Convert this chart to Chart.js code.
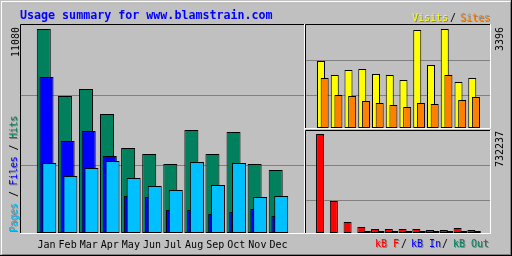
<!DOCTYPE html>
<html>
<head>
<meta charset="utf-8">
<script src="https://cdn.jsdelivr.net/npm/chart.js@4.4.1/dist/chart.umd.min.js"></script>
<style>
body { margin: 0; background: #c0c0c0; }
#wrap { position: relative; width: 511px; height: 255px; border-right: 1px solid #000; border-bottom: 1px solid #000;
        background: #c0c0c0; overflow: hidden; font-family: "DejaVu Sans Mono", monospace; font-size: 10px; line-height: 10px; }
#bevel { position: absolute; left: 1px; top: 1px; width: 508px; height: 252px;
         border-left: 1px solid #fff; border-top: 1px solid #fff; border-right: 1px solid #808080; border-bottom: 1px solid #808080; }
canvas { position: absolute; }
.t { position: absolute; white-space: pre; }
.up { position: absolute; white-space: pre; transform-origin: 0 0; transform: rotate(-90deg); }
.sh { text-shadow: 1px 1px 0 #808080; }
.up .sh { text-shadow: -1px 1px 0 #808080; }
</style>
</head>
<body>
<div id="wrap">
  <div id="bevel"></div>
  <canvas id="main" width="305" height="256" style="left:0;top:0"></canvas>
  <canvas id="vs" width="207" height="130" style="left:305px;top:0"></canvas>
  <canvas id="kb" width="207" height="126" style="left:305px;top:130px"></canvas>

  <div class="t" style="left:20px;top:10px;font-weight:bold;font-size:11.67px;line-height:11.67px;color:#0000ff">Usage summary for www.blamstrain.com</div>

  <div class="t sh" style="left:412px;top:13px;color:#ffff00">Visits</div>
  <div class="t" style="left:450px;top:13px;color:#000">/</div>
  <div class="t sh" style="left:460px;top:13px;color:#ff8000">Sites</div>

  <div class="t sh" style="left:375px;top:239px;color:#ff0000">kB F</div>
  <div class="t" style="left:401px;top:239px;color:#000">/</div>
  <div class="t sh" style="left:411px;top:239px;color:#0000ff">kB In</div>
  <div class="t" style="left:442px;top:239px;color:#000">/</div>
  <div class="t sh" style="left:453px;top:239px;color:#00805c">kB Out</div>

  <div class="up" style="left:11px;top:57px;color:#000">11080</div>
  <div class="up" style="left:495px;top:51px;color:#000">3396</div>
  <div class="up" style="left:495px;top:167px;color:#000">732237</div>
  <div class="up" style="left:9px;top:232px;letter-spacing:-0.2px"><span class="sh" style="color:#00c0ff">Pages</span> / <span class="sh" style="color:#0000ff">Files</span> / <span class="sh" style="color:#00805c">Hits</span></div>
</div>

<script>
const months = ['Jan', 'Feb', 'Mar', 'Apr', 'May', 'Jun', 'Jul', 'Aug', 'Sep', 'Oct', 'Nov', 'Dec'];

const hits  = [11080, 7441, 7821, 6463, 4616, 4291, 3747, 5594, 4291, 5485, 3747, 3422];
const files = [8472, 4997, 5540, 4182, 2009, 1955, 1249, 1249, 1032, 1141, 1303, 923];
const pages = [3802, 3096, 3530, 3910, 2987, 2553, 2335, 3856, 2607, 3802, 1955, 2009];

const visits = [2298, 1818, 1989, 2024, 1852, 1818, 1646, 3362, 2161, 3396, 1578, 1715];
const sites  = [1715, 1132, 1098, 926, 858, 789, 720, 858, 823, 1818, 960, 1063];

const kbF   = [732237, 236680, 81360, 44380, 29590, 29590, 29590, 29590, 22190, 22190, 36980, 22190];
const kbIn  = [0, 0, 0, 7400, 7400, 7400, 7400, 7400, 7400, 7400, 7400, 7400];
const kbOut = [0, 0, 0, 14800, 14800, 14800, 14800, 14800, 14800, 14800, 14800, 14800];

Chart.defaults.font.family = '"DejaVu Sans Mono", monospace';
Chart.defaults.animation = false;

// webalizer style sunken frame round the plot
const frame = {
  id: 'frame',
  afterDatasetsDraw(chart) {
    const a = chart.chartArea, ctx = chart.ctx;
    ctx.save();
    ctx.lineWidth = 1;
    ctx.strokeStyle = '#000';
    ctx.beginPath();
    ctx.moveTo(a.left - 0.5, a.bottom);
    ctx.lineTo(a.left - 0.5, a.top - 0.5);
    ctx.lineTo(a.right, a.top - 0.5);
    ctx.stroke();
    ctx.strokeStyle = '#fff';
    ctx.beginPath();
    ctx.moveTo(a.left - 1, a.bottom + 0.5);
    ctx.lineTo(a.right + 0.5, a.bottom + 0.5);
    ctx.lineTo(a.right + 0.5, a.top - 1);
    ctx.stroke();
    ctx.restore();
  }
};

function series(vals, shift) {
  return vals.map((v, i) => ({x: i + shift, y: v}));
}

function bars(label, vals, shift, color, width) {
  return {
    label: label,
    data: series(vals, shift),
    backgroundColor: color,
    borderColor: '#000',
    borderWidth: 1,
    borderSkipped: false,
    barThickness: width,
    grouped: false,
    inflateAmount: 0
  };
}

// grid rows sit a fixed number of pixels below the frame top
function yAxis(max, height, offsets) {
  return {
    min: 0,
    max: max,
    border: {display: false},
    grid: {color: '#808080', drawTicks: false},
    ticks: {display: false},
    afterBuildTicks: ax => { ax.ticks = offsets.map(o => ({value: max * (1 - (o + 0.5) / height)})); },
    afterFit: ax => { ax.width = 0; }
  };
}

function makeChart(id, datasets, xMin, xMax, yScale, padding, showMonths) {
  return new Chart(document.getElementById(id), {
    type: 'bar',
    data: {datasets: datasets},
    plugins: [frame],
    options: {
      responsive: false,
      layout: {padding: padding},
      plugins: {legend: {display: false}, tooltip: {enabled: false}},
      scales: {
        x: {
          type: 'linear',
          min: xMin,
          max: xMax,
          display: showMonths,
          border: {display: false},
          grid: {display: false, drawTicks: false},
          ticks: {
            padding: 6,
            color: '#000',
            font: {size: 10},
            maxRotation: 0,
            autoSkip: false,
            callback: v => months[v]
          },
          afterBuildTicks: ax => { ax.ticks = months.map((m, i) => ({value: i})); },
          afterFit: ax => { ax.height = showMonths ? 23 : 0; }
        },
        y: yScale
      }
    }
  });
}

// main: 23px per month, bars 14px wide, 3px apart
makeChart('main', [
  bars('Pages', pages, 3 / 23, '#00c0ff', 14),
  bars('Files', files, 0, '#0000ff', 14),
  bars('Hits', hits, -3 / 23, '#00805c', 14)
], -15 / 23, 268 / 23, yAxis(11297, 208, [70, 140]), {left: 21, top: 25, right: 1, bottom: 0}, true);

// visits / sites: 15px per month, bars 8px wide
makeChart('vs', [
  bars('Sites', sites, 4 / 15, '#ff8000', 8),
  bars('Visits', visits, 0, '#ffff00', 8)
], -8 / 15, 176 / 15, yAxis(3533, 103, [35, 70]), {left: 1, top: 25, right: 22, bottom: 2}, false);

// traffic
makeChart('kb', [
  bars('kB F', kbF, -1 / 15, '#ff0000', 8),
  bars('kB In', kbIn, 3 / 15, '#0000ff', 8),
  bars('kB Out', kbOut, 5 / 15, '#00805c', 8)
], -8 / 15, 176 / 15, yAxis(754430, 102, [34, 69]), {left: 1, top: 1, right: 22, bottom: 23}, false);
</script>
</body>
</html>
